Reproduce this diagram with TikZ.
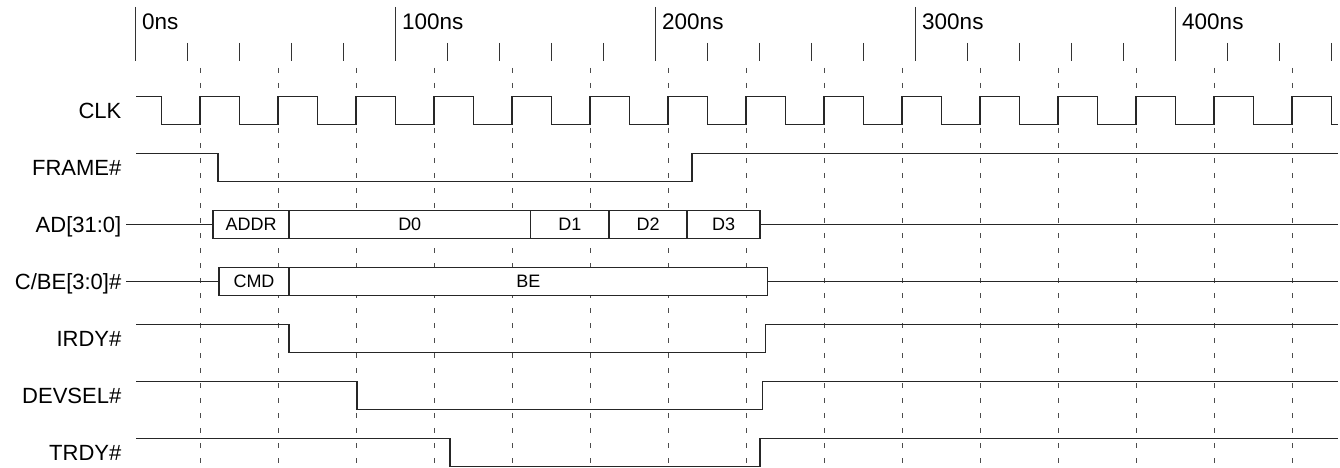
\documentclass[tikz,border=0pt]{standalone}
\usepackage{fontspec}
\setmainfont{Liberation Sans}
\begin{document}
\begin{tikzpicture}[x=1pt,y=-1pt,
  sig/.style={line width=1.1pt, black!85, line join=miter},
  busbox/.style={sig, fill=white},
  tickmark/.style={line width=1pt, black!80},
  gridline/.style={line width=0.9pt, black!70, dash pattern=on 5pt off 10pt},
  lbl/.style={anchor=base east, inner sep=0pt, font=\fontsize{22}{22}\selectfont},
  axl/.style={anchor=base west, inner sep=0pt, font=\fontsize{22.5}{22.5}\selectfont},
  bustxt/.style={anchor=base, inner sep=0pt, font=\fontsize{18}{18}\selectfont}]
\useasboundingbox (0,0) rectangle (1340,468);
\fill[white] (0,0) rectangle (1340,468);

% time axis
\foreach \i/\t in {0/0ns,1/100ns,2/200ns,3/300ns,4/400ns}{
  \draw[tickmark] ({135+260*\i},7) -- ({135+260*\i},61);
  \node[axl] (ax\i) at ({142+260*\i},30) {\t};
}
\foreach \t in {20,40,60,80,120,140,160,180,220,240,260,280,320,340,360,380,420,440,460}{
  \draw[tickmark] ({135+2.6*\t},43) -- ({135+2.6*\t},61);
}

% clock grid
\foreach \k in {0,...,14}{
  \draw[gridline] ({200+78*\k},68) -- ({200+78*\k},468);
}

% labels
\node[lbl] (lclk)   at (121.5,118.0) {CLK};
\node[lbl] (lframe) at (121.5,175.0) {FRAME\#};
\node[lbl] (lad)    at (121.5,232.0) {AD[31:0]};
\node[lbl] (lcbe)   at (121.5,289.0) {C/BE[3:0]\#};
\node[lbl] (lirdy)  at (121.5,346.0) {IRDY\#};
\node[lbl] (ldev)   at (121.5,403.0) {DEVSEL\#};
\node[lbl] (ltrdy)  at (121.5,460.0) {TRDY\#};

% CLK
\draw[sig] (136,96.75)
  \foreach \k in {0,...,14}{
    -- ({161.5+78*\k},96.75) -- ({161.5+78*\k},124.25)
    -- ({200+78*\k},124.25) -- ({200+78*\k},96.75)
  }
  -- (1331.5,96.75) -- (1331.5,124.25) -- (1338,124.25);

% FRAME#
\draw[sig] (136,153.75) -- (218,153.75) -- (218,181.25) -- (692,181.25)
  -- (692,153.75) -- (1338,153.75);

% AD[31:0]
\draw[sig] (126,224.5) -- (213,224.5);
\draw[busbox] (213,210.75) rectangle (760,238.25);
\draw[sig] (289,210.75) -- (289,238.25);
\draw[sig] (530.5,210.75) -- (530.5,238.25);
\draw[sig] (609,210.75) -- (609,238.25);
\draw[sig] (687,210.75) -- (687,238.25);
\draw[sig] (760,224.5) -- (1338,224.5);
\node[bustxt] (taddr) at (251,230.9) {ADDR};
\node[bustxt] (td0)   at (409.75,230.9) {D0};
\node[bustxt] (td1)   at (569.75,230.9) {D1};
\node[bustxt] (td2)   at (648,230.9) {D2};
\node[bustxt] (td3)   at (723.5,230.9) {D3};

% C/BE[3:0]#
\draw[sig] (126,281.5) -- (219,281.5);
\draw[busbox] (219,267.75) rectangle (767.5,295.25);
\draw[sig] (289,267.75) -- (289,295.25);
\draw[sig] (767.5,281.5) -- (1338,281.5);
\node[bustxt] (tcmd) at (254,287.9) {CMD};
\node[bustxt] (tbe)  at (528.25,287.9) {BE};

% IRDY#
\draw[sig] (136,324.75) -- (289,324.75) -- (289,352.25) -- (765.5,352.25)
  -- (765.5,324.75) -- (1338,324.75);
% DEVSEL#
\draw[sig] (136,381.75) -- (357,381.75) -- (357,409.25) -- (762.5,409.25)
  -- (762.5,381.75) -- (1338,381.75);
% TRDY#
\draw[sig] (136,438.75) -- (450,438.75) -- (450,466.25) -- (760,466.25)
  -- (760,438.75) -- (1338,438.75);
\end{tikzpicture}
\end{document}
